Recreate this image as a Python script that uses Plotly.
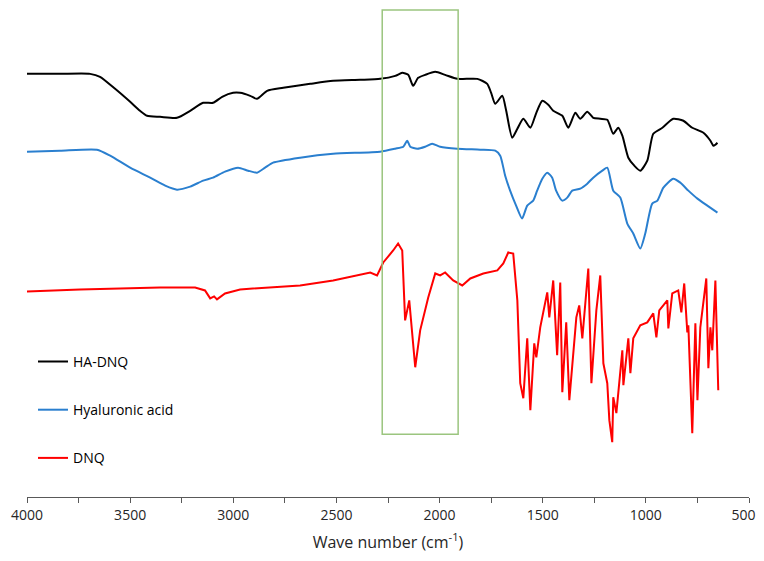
import plotly.graph_objects as go

# Wave numbers (cm^-1) and offset transmittance (a.u.)
ha_dnq_wn = [4000, 3840, 3694, 3646, 3573, 3500, 3452, 3418, 3355, 3273, 3209, 3146, 3098, 3054, 3001,
             2967, 2918, 2885, 2836, 2758, 2627, 2516, 2385, 2288, 2215, 2181, 2152, 2128, 2104, 2070,
             2021, 1973, 1914, 1817, 1769, 1750, 1730, 1696, 1677, 1648, 1623, 1594, 1560, 1531, 1502,
             1473, 1449, 1405, 1376, 1342, 1318, 1284, 1255, 1221, 1187, 1158, 1134, 1114, 1085, 1056,
             1027, 993, 964, 920, 867, 818, 775, 721, 687, 673, 663, 653]
ha_dnq_t = [424, 424, 424, 421, 409, 396, 387, 382, 381, 380, 387, 395, 395, 401, 405,
            405, 402, 399, 407, 410, 414, 417, 418, 419, 422, 425, 423, 412, 420, 423,
            426, 423, 419, 419, 414, 405, 394, 402, 387, 360, 369, 379, 370, 385, 397,
            393, 387, 382, 370, 385, 379, 386, 380, 379, 378, 364, 370, 362, 340, 332,
            327, 337, 364, 370, 379, 377, 370, 365, 357, 352, 353, 355]

ha_wn = [4000, 3840, 3661, 3597, 3500, 3403, 3330, 3273, 3209, 3146, 3098, 3040, 2977, 2928, 2885,
         2846, 2807, 2676, 2516, 2288, 2215, 2176, 2157, 2142, 2108, 2070, 2036, 1997, 1914, 1803,
         1730, 1706, 1682, 1658, 1629, 1600, 1575, 1546, 1527, 1502, 1478, 1454, 1435, 1405, 1381,
         1357, 1318, 1284, 1255, 1211, 1187, 1158, 1124, 1090, 1061, 1027, 1003, 969, 944, 915,
         867, 833, 794, 750, 702, 653]
ha_t = [346, 347, 348, 342, 330, 320, 312, 308, 311, 317, 320, 326, 330, 327, 325,
        330, 335, 340, 344, 346, 349, 351, 357, 351, 349, 351, 354, 351, 349, 348,
        347, 342, 322, 307, 292, 279, 292, 297, 307, 319, 325, 320, 307, 297, 300,
        307, 309, 314, 320, 327, 330, 307, 300, 274, 264, 249, 264, 294, 297, 310,
        319, 315, 307, 299, 292, 285]

dnq_wn = [4000, 3888, 3743, 3549, 3355, 3185, 3137, 3112, 3093, 3079, 3040, 2967, 2836, 2676, 2516,
          2409, 2336, 2303, 2273, 2225, 2201, 2181, 2167, 2147, 2118, 2094, 2055, 2021, 1997, 1973,
          1934, 1890, 1851, 1788, 1720, 1691, 1667, 1643, 1623, 1609, 1594, 1575, 1560, 1541, 1531,
          1512, 1478, 1468, 1449, 1430, 1415, 1405, 1386, 1371, 1337, 1323, 1308, 1279, 1264, 1240,
          1221, 1206, 1187, 1177, 1163, 1158, 1143, 1114, 1109, 1085, 1075, 1061, 1027, 993, 964,
          949, 935, 896, 891, 872, 843, 828, 814, 799, 794, 775, 760, 750, 736, 707,
          697, 687, 678, 663, 649]
dnq_t = [206, 207, 208, 209, 210, 210, 207, 199, 201, 198, 204, 208, 210, 212, 217,
         222, 225, 222, 235, 247, 254, 247, 177, 197, 130, 167, 200, 224, 222, 225,
         217, 212, 219, 224, 227, 234, 245, 244, 197, 114, 99, 159, 87, 154, 140,
         170, 205, 180, 217, 142, 215, 105, 175, 97, 180, 192, 159, 229, 114, 187,
         222, 134, 114, 77, 55, 100, 84, 147, 112, 159, 124, 159, 172, 175, 184,
         160, 187, 197, 169, 204, 207, 185, 214, 165, 172, 64, 174, 97, 170, 219,
         129, 170, 147, 217, 107]

x_ticks = [4000, 3500, 3000, 2500, 2000, 1500, 1000, 500]
x_tick_labels = ["4000", "3500", "3000", "2500", "2000", "1500", "1000", "500\u00a0\u00a0\u00a0"]
box_wn = [2278, 1910]
box_t = [63, 488]

series = [
    ("HA-DNQ", ha_dnq_wn, ha_dnq_t, "#000000", "spline"),
    ("Hyaluronic acid", ha_wn, ha_t, "#2a7fcf", "spline"),
    ("DNQ", dnq_wn, dnq_t, "#ff0000", "linear"),
]

fig = go.Figure()
for i, (name, xs, ys, col, shp) in enumerate(series):
    fig.add_trace(go.Scatter(
        x=xs, y=ys, mode="lines", name=name, legendgroup=f"g{i}",
        line=dict(color=col, width=2, shape=shp, smoothing=0.6 if shp == "spline" else None),
    ))

fig.add_shape(type="rect", xref="x", yref="y",
              x0=box_wn[0], x1=box_wn[1], y0=box_t[0], y1=box_t[1],
              line=dict(color="#9bc57f", width=1.5), fillcolor="rgba(0,0,0,0)")

fig.update_layout(
    width=756, height=545,
    margin=dict(l=19, r=15, t=0, b=56, autoexpand=False),
    paper_bgcolor="white", plot_bgcolor="white",
    font=dict(family="Open Sans, Liberation Sans, sans-serif", color="#000000"),
    showlegend=True,
    legend=dict(x=0.0083, y=0.309, xanchor="left", yanchor="top",
                font=dict(size=14, color="#000000"), tracegroupgap=27,
                bgcolor="rgba(0,0,0,0)", itemwidth=30),
    xaxis=dict(
        range=[4000, 500], tickvals=x_ticks, ticktext=x_tick_labels,
        showgrid=False, zeroline=False, showline=True, linecolor="#595959", linewidth=1,
        ticks="outside", ticklen=5, tickcolor="#595959", automargin=False,
        ticklabeloverflow="allow",
        minor=dict(dtick=250, tick0=0, ticks="outside", ticklen=5, tickcolor="#595959", showgrid=False),
        tickfont=dict(size=14, color="#262626"),
        title=dict(text="Wave number (cm<sup>-1</sup>)", font=dict(size=16, color="#262626"), standoff=14),
    ),
    yaxis=dict(range=[0, 490], visible=False),
)

fig.write_html("out.html")
